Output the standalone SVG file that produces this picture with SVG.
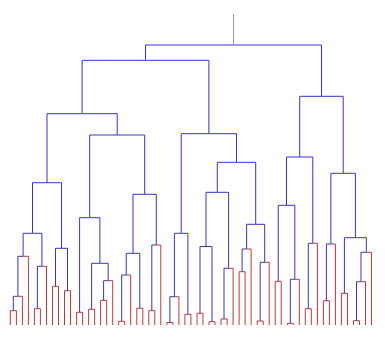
<svg xmlns="http://www.w3.org/2000/svg" width="385" height="345" viewBox="0 0 385 345">
<style>
path{fill:none;stroke-width:1}
.b{stroke:#3434cc}
.r{stroke:#cc3434}
.g{stroke:#999999}
</style>
<rect width="385" height="345" fill="#ffffff"/>
<g id="connectors">
<g id="m1"><path class="r" d="M10.3 325V310.7H13.3"/><path class="r" d="M13.3 310.7H16.4V325"/></g>
<g id="m2"><path class="b" d="M13.3 310.7V296.3H17.9"/><path class="r" d="M17.9 296.3H22.4V325"/></g>
<g id="m3"><path class="b" d="M17.9 296.3V256.3H23.1"/><path class="r" d="M23.1 256.3H28.4V325"/></g>
<g id="m4"><path class="r" d="M34.4 325V308.7H37.4"/><path class="r" d="M37.4 308.7H40.4V325"/></g>
<g id="m5"><path class="b" d="M37.4 308.7V266.3H41.9"/><path class="r" d="M41.9 266.3H46.5V325"/></g>
<g id="m6"><path class="b" d="M23.1 256.3V233.3H32.5"/><path class="b" d="M32.5 233.3H41.9V266.3"/></g>
<g id="m7"><path class="r" d="M52.5 325V286.3H55.5"/><path class="r" d="M55.5 286.3H58.5V325"/></g>
<g id="m8"><path class="r" d="M64.5 325V290.7H67.5"/><path class="r" d="M67.5 290.7H70.5V325"/></g>
<g id="m9"><path class="b" d="M55.5 286.3V248.3H61.5"/><path class="b" d="M61.5 248.3H67.5V290.7"/></g>
<g id="m10"><path class="b" d="M32.5 233.3V182.7H47"/><path class="b" d="M47 182.7H61.5V248.3"/></g>
<g id="m11"><path class="r" d="M76.6 325V312.3H79.6"/><path class="r" d="M79.6 312.3H82.6V325"/></g>
<g id="m12"><path class="r" d="M88.6 325V309.3H91.6"/><path class="r" d="M91.6 309.3H94.6V325"/></g>
<g id="m13"><path class="r" d="M100.6 325V300.3H103.6"/><path class="r" d="M103.6 300.3H106.7V325"/></g>
<g id="m14"><path class="b" d="M103.6 300.3V280.7H108.2"/><path class="r" d="M108.2 280.7H112.7V325"/></g>
<g id="m15"><path class="b" d="M91.6 309.3V263.3H99.9"/><path class="b" d="M99.9 263.3H108.2V280.7"/></g>
<g id="m16"><path class="b" d="M79.6 312.3V217.7H89.7"/><path class="b" d="M89.7 217.7H99.9V263.3"/></g>
<g id="m17"><path class="r" d="M118.7 325V321.3H121.7"/><path class="r" d="M121.7 321.3H124.7V325"/></g>
<g id="m18"><path class="b" d="M121.7 321.3V275H126.2"/><path class="r" d="M126.2 275H130.7V325"/></g>
<g id="m19"><path class="r" d="M136.8 325V308.3H139.8"/><path class="r" d="M139.8 308.3H142.8V325"/></g>
<g id="m20"><path class="b" d="M126.2 275V253.3H133"/><path class="b" d="M133 253.3H139.8V308.3"/></g>
<g id="m21"><path class="r" d="M148.8 325V310.7H151.8"/><path class="r" d="M151.8 310.7H154.8V325"/></g>
<g id="m22"><path class="b" d="M151.8 310.7V245H156.3"/><path class="r" d="M156.3 245H160.8V325"/></g>
<g id="m23"><path class="b" d="M133 253.3V194.3H144.7"/><path class="b" d="M144.7 194.3H156.3V245"/></g>
<g id="m24"><path class="b" d="M89.7 217.7V135H117.2"/><path class="b" d="M117.2 135H144.7V194.3"/></g>
<g id="m25"><path class="b" d="M47 182.7V113.7H82.1"/><path class="b" d="M82.1 113.7H117.2V135"/></g>
<g id="m26"><path class="r" d="M166.9 325V322.5H169.9"/><path class="r" d="M169.9 322.5H172.9V325"/></g>
<g id="m27"><path class="b" d="M169.9 322.5V296.7H174.4"/><path class="r" d="M174.4 296.7H178.9V325"/></g>
<g id="m28"><path class="r" d="M184.9 325V314.3H187.9"/><path class="r" d="M187.9 314.3H190.9V325"/></g>
<g id="m29"><path class="b" d="M174.4 296.7V233.3H181.2"/><path class="b" d="M181.2 233.3H187.9V314.3"/></g>
<g id="m30"><path class="r" d="M197 325V313.3H200"/><path class="r" d="M200 313.3H203V325"/></g>
<g id="m31"><path class="r" d="M209 325V321.7H212"/><path class="r" d="M212 321.7H215V325"/></g>
<g id="m32"><path class="b" d="M200 313.3V246.5H206"/><path class="b" d="M206 246.5H212V321.7"/></g>
<g id="m33"><path class="r" d="M221 325V319H224"/><path class="r" d="M224 319H227.1V325"/></g>
<g id="m34"><path class="b" d="M224 319V268.3H228.6"/><path class="r" d="M228.6 268.3H233.1V325"/></g>
<g id="m35"><path class="b" d="M206 246.5V192.3H217.3"/><path class="b" d="M217.3 192.3H228.6V268.3"/></g>
<g id="m36"><path class="r" d="M239.1 325V271.7H242.1"/><path class="r" d="M242.1 271.7H245.1V325"/></g>
<g id="m37"><path class="b" d="M242.1 271.7V249H246.6"/><path class="r" d="M246.6 249H251.1V325"/></g>
<g id="m38"><path class="r" d="M257.2 325V321H260.2"/><path class="r" d="M260.2 321H263.2V325"/></g>
<g id="m39"><path class="b" d="M260.2 321V262.3H264.7"/><path class="r" d="M264.7 262.3H269.2V325"/></g>
<g id="m40"><path class="b" d="M246.6 249V224.3H255.7"/><path class="b" d="M255.7 224.3H264.7V262.3"/></g>
<g id="m41"><path class="b" d="M217.3 192.3V162.3H236.5"/><path class="b" d="M236.5 162.3H255.7V224.3"/></g>
<g id="m42"><path class="b" d="M181.2 233.3V133.7H208.9"/><path class="b" d="M208.9 133.7H236.5V162.3"/></g>
<g id="m43"><path class="b" d="M82.1 113.7V60.3H145.5"/><path class="b" d="M145.5 60.3H208.9V133.7"/></g>
<g id="m44"><path class="r" d="M275.2 325V281.3H278.2"/><path class="r" d="M278.2 281.3H281.2V325"/></g>
<g id="m45"><path class="r" d="M287.3 325V323.3H290.3"/><path class="r" d="M290.3 323.3H293.3V325"/></g>
<g id="m46"><path class="b" d="M290.3 323.3V279.3H294.8"/><path class="r" d="M294.8 279.3H299.3V325"/></g>
<g id="m47"><path class="b" d="M278.2 281.3V205.3H286.5"/><path class="b" d="M286.5 205.3H294.8V279.3"/></g>
<g id="m48"><path class="r" d="M305.3 325V308.7H308.3"/><path class="r" d="M308.3 308.7H311.3V325"/></g>
<g id="m49"><path class="b" d="M308.3 308.7V243.3H312.8"/><path class="r" d="M312.8 243.3H317.4V325"/></g>
<g id="m50"><path class="b" d="M286.5 205.3V157H299.7"/><path class="b" d="M299.7 157H312.8V243.3"/></g>
<g id="m51"><path class="r" d="M323.4 325V300.7H326.4"/><path class="r" d="M326.4 300.7H329.4V325"/></g>
<g id="m52"><path class="b" d="M326.4 300.7V244H330.9"/><path class="r" d="M330.9 244H335.4V325"/></g>
<g id="m53"><path class="r" d="M341.4 325V293.3H344.4"/><path class="r" d="M344.4 293.3H347.5V325"/></g>
<g id="m54"><path class="r" d="M353.5 325V320.7H356.5"/><path class="r" d="M356.5 320.7H359.5V325"/></g>
<g id="m55"><path class="b" d="M356.5 320.7V281.7H361"/><path class="r" d="M361 281.7H365.5V325"/></g>
<g id="m56"><path class="b" d="M361 281.7V252.3H366.3"/><path class="r" d="M366.3 252.3H371.5V325"/></g>
<g id="m57"><path class="b" d="M344.4 293.3V237.7H355.4"/><path class="b" d="M355.4 237.7H366.3V252.3"/></g>
<g id="m58"><path class="b" d="M330.9 244V173.3H343.2"/><path class="b" d="M343.2 173.3H355.4V237.7"/></g>
<g id="m59"><path class="b" d="M299.7 157V96.3H321.5"/><path class="b" d="M321.5 96.3H343.2V173.3"/></g>
<g id="m60"><path class="b" d="M145.5 60.3V45H233.5"/><path class="b" d="M233.5 45H321.5V96.3"/></g>
<g id="root"><path class="g" d="M233.5 45V14"/></g>
</g>
</svg>
